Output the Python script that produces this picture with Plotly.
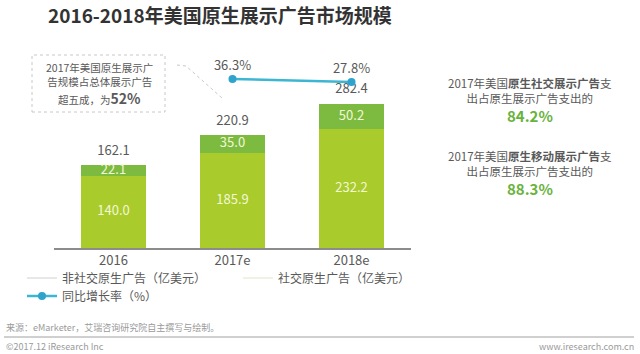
import plotly.graph_objects as go

# ---- data ----
years = ["2016", "2017e", "2018e"]
non_social = [140.0, 185.9, 232.2]
social = [22.1, 35.0, 50.2]
growth_years = ["2017e", "2018e"]
growth = [36.3, 27.8]

totals = [round(a + b, 1) for a, b in zip(non_social, social)]

# ---- geometry helpers (pixel -> paper) ----
W_FIG, H_FIG = 640, 354
L, R_EDGE = 54, 411
TOP, BOT = 48, 248
PW, PH = R_EDGE - L, BOT - TOP


def px(x):
    return (x - L) / PW


def py(y):
    return (BOT - y) / PH


FONT = "Noto Sans CJK SC, Noto Sans, sans-serif"
GRAY = "#595959"
LIME = "#a9cb2c"
GREEN = "#7dbb40"
BLUE = "#3cb6d3"

fig = go.Figure()

fig.add_trace(go.Bar(x=years, y=non_social, marker=dict(color=LIME, line=dict(width=0)),
                     name="非社交原生广告（亿美元）", showlegend=False, hoverinfo="skip"))
fig.add_trace(go.Bar(x=years, y=social, marker=dict(color=GREEN, line=dict(width=0)),
                     name="社交原生广告（亿美元）", showlegend=False, hoverinfo="skip"))

# inside labels at segment centers
fig.add_trace(go.Scatter(x=years, y=[v / 2 for v in non_social], mode="text",
                         text=[f"{v:.1f}" for v in non_social],
                         textfont=dict(color="#f3f8d6", size=13, family=FONT),
                         showlegend=False, hoverinfo="skip"))
fig.add_trace(go.Scatter(x=years, y=[a + b / 2 for a, b in zip(non_social, social)], mode="text",
                         text=[f"{v:.1f}" for v in social],
                         textfont=dict(color="#f3f8d6", size=13, family=FONT),
                         showlegend=False, hoverinfo="skip"))
# totals
fig.add_trace(go.Scatter(x=years, y=totals, mode="markers+text",
                         marker=dict(size=10, opacity=0),
                         text=[f"{v:.1f}" for v in totals], textposition="top center",
                         textfont=dict(color=GRAY, size=13, family=FONT),
                         showlegend=False, hoverinfo="skip"))

# growth line on secondary axis
fig.add_trace(go.Scatter(x=growth_years, y=growth, yaxis="y2", mode="lines+markers+text",
                         line=dict(color=BLUE, width=2.5),
                         marker=dict(color="#2ea4cc", size=8),
                         text=[f"{v:.1f}%" for v in growth], textposition="top center",
                         textfont=dict(color=GRAY, size=13, family=FONT),
                         name="同比增长率（%）", legend="legend3", hoverinfo="skip"))

# legend-only line entries for the bars
fig.add_trace(go.Scatter(x=[None], y=[None], mode="lines", line=dict(color="#d0d0d0", width=1),
                         name="非社交原生广告（亿美元）", legend="legend"))
fig.add_trace(go.Scatter(x=[None], y=[None], mode="lines", line=dict(color="#dfe6c4", width=1),
                         name="社交原生广告（亿美元）", legend="legend2"))

leg_common = dict(orientation="v", bgcolor="rgba(0,0,0,0)", borderwidth=0,
                  font=dict(size=12, color=GRAY, family=FONT),
                  xanchor="left", yanchor="middle", itemwidth=30)

fig.update_layout(
    width=W_FIG, height=H_FIG,
    margin=dict(l=L, r=W_FIG - R_EDGE, t=TOP, b=H_FIG - BOT, pad=0),
    paper_bgcolor="white", plot_bgcolor="white",
    barmode="stack", bargap=0.45,
    font=dict(family=FONT, color=GRAY),
    title=dict(text="<b>2016-2018年美国原生展示广告市场规模</b>",
               x=48 / W_FIG, xanchor="left", y=1 - 16 / H_FIG, yanchor="middle",
               xref="container", yref="container",
               font=dict(size=19, color="#333333", family=FONT)),
    xaxis=dict(showgrid=False, showline=True, linecolor="#8c8c8c", linewidth=1.5,
               ticks="", tickfont=dict(size=13, color=GRAY, family=FONT),
               range=[-0.5, 2.5], fixedrange=True),
    yaxis=dict(visible=False, range=[0, PH / 0.511], fixedrange=True),
    yaxis2=dict(visible=False, overlaying="y", range=[-442.5, 124.2], fixedrange=True),
    legend=dict(x=px(22), y=py(278), **leg_common),
    legend2=dict(x=px(238), y=py(278), **leg_common),
    legend3=dict(x=px(22), y=py(296), **leg_common),
    showlegend=True,
)

shapes = []
annotations = []

# dashed callout box
shapes.append(dict(type="rect", xref="paper", yref="paper",
                   x0=px(32), x1=px(165), y0=py(112), y1=py(55),
                   line=dict(color="#c8c8c8", width=1, dash="dot")))
shapes.append(dict(type="path", xref="paper", yref="paper",
                   path=f"M {px(177)},{py(65)} L {px(186)},{py(66)} L {px(222)},{py(98)}",
                   line=dict(color="#c8c8c8", width=1, dash="dot")))

annotations.append(dict(text="2017年美国原生展示广<br>告规模占总体展示广告",
                        xref="paper", yref="paper", x=px(99), y=py(74),
                        xanchor="center", yanchor="middle", showarrow=False,
                        font=dict(size=10.5, color=GRAY, family=FONT)))
annotations.append(dict(text="超五成，为<b><span style='font-size:14px'>52%</span></b>",
                        xref="paper", yref="paper", x=px(99), y=py(98),
                        xanchor="center", yanchor="middle", showarrow=False,
                        font=dict(size=10.5, color=GRAY, family=FONT)))

# right side notes
right_blocks = [
    ("2017年美国<b>原生社交展示广告</b>支<br>出占原生展示广告支出的", 90, "<b>84.2%</b>", 115),
    ("2017年美国<b>原生移动展示广告</b>支<br>出占原生展示广告支出的", 163, "<b>88.3%</b>", 188),
]
for t, yy, pct, yp in right_blocks:
    annotations.append(dict(text=t, xref="paper", yref="paper", x=px(530), y=py(yy),
                            xanchor="center", yanchor="middle", showarrow=False,
                            font=dict(size=11.5, color=GRAY, family=FONT)))
    annotations.append(dict(text=pct, xref="paper", yref="paper", x=px(530), y=py(yp),
                            xanchor="center", yanchor="middle", showarrow=False,
                            font=dict(size=15, color="#6ab23e", family=FONT)))

# source + footer
annotations.append(dict(text="来源：eMarketer，艾瑞咨询研究院自主撰写与绘制。", xref="paper", yref="paper",
                        x=px(4), y=py(327), xanchor="left", yanchor="middle", showarrow=False,
                        font=dict(size=9, color="#9a9a9a", family=FONT)))
annotations.append(dict(text="©2017.12 iResearch Inc", xref="paper", yref="paper",
                        x=px(4), y=py(346), xanchor="left", yanchor="middle", showarrow=False,
                        font=dict(size=9, color="#9a9a9a", family=FONT)))
annotations.append(dict(text="www.iresearch.com.cn", xref="paper", yref="paper",
                        x=px(636), y=py(346), xanchor="right", yanchor="middle", showarrow=False,
                        font=dict(size=9, color="#9a9a9a", family=FONT)))
shapes.append(dict(type="line", xref="paper", yref="paper",
                   x0=px(4), x1=px(634), y0=py(337), y1=py(337),
                   line=dict(color="#a0a0a0", width=1)))

fig.update_layout(shapes=shapes, annotations=annotations)

fig.write_html("out.html", config={"displayModeBar": False})
